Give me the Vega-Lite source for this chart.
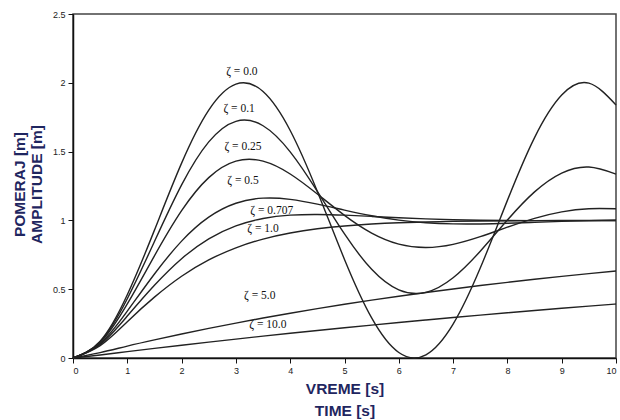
{
  "$schema": "https://vega.github.io/schema/vega-lite/v6.json",
  "width": 543,
  "height": 344,
  "autosize": {"type": "none"},
  "padding": {"left": 73, "top": 14, "right": 4, "bottom": 62},
  "background": "white",
  "config": {
    "view": {"stroke": "#444", "strokeWidth": 1.5},
    "axis": {
      "grid": false,
      "domainColor": "#111",
      "domainWidth": 1.5,
      "tickColor": "#111",
      "tickSize": 5,
      "tickWidth": 1,
      "labelFont": "Liberation Sans",
      "labelFontSize": 9,
      "labelColor": "#222",
      "labelPadding": 3,
      "titleFont": "Liberation Sans",
      "titleFontWeight": "bold",
      "titleColor": "#1F2660"
    }
  },
  "datasets": {
    "curves": [
      {"z":"0.0","t":0,"y":0},{"z":"0.0","t":0.5,"y":0.1224},{"z":"0.0","t":1,"y":0.4597},{"z":"0.0","t":1.5,"y":0.9293},{"z":"0.0","t":2,"y":1.4161},{"z":"0.0","t":2.5,"y":1.8011},{"z":"0.0","t":3,"y":1.99},{"z":"0.0","t":3.5,"y":1.9365},{"z":"0.0","t":4,"y":1.6536},{"z":"0.0","t":4.5,"y":1.2108},{"z":"0.0","t":5,"y":0.7163},{"z":"0.0","t":5.5,"y":0.2913},{"z":"0.0","t":6,"y":0.0398},{"z":"0.0","t":6.5,"y":0.0234},{"z":"0.0","t":7,"y":0.2461},{"z":"0.0","t":7.5,"y":0.6534},{"z":"0.0","t":8,"y":1.1455},{"z":"0.0","t":8.5,"y":1.602},{"z":"0.0","t":9,"y":1.9111},{"z":"0.0","t":9.5,"y":1.9972},{"z":"0.0","t":10,"y":1.8391},
      {"z":"0.1","t":0,"y":0},{"z":"0.1","t":0.5,"y":0.1185},{"z":"0.1","t":1,"y":0.431},{"z":"0.1","t":1.5,"y":0.8464},{"z":"0.1","t":2,"y":1.2581},{"z":"0.1","t":2.5,"y":1.5704},{"z":"0.1","t":3,"y":1.7201},{"z":"0.1","t":3.5,"y":1.6878},{"z":"0.1","t":4,"y":1.4983},{"z":"0.1","t":4.5,"y":1.2108},{"z":"0.1","t":5,"y":0.9015},{"z":"0.1","t":5.5,"y":0.6445},{"z":"0.1","t":6,"y":0.4949},{"z":"0.1","t":6.5,"y":0.4772},{"z":"0.1","t":7,"y":0.583},{"z":"0.1","t":7.5,"y":0.7758},{"z":"0.1","t":8,"y":1.0026},{"z":"0.1","t":8.5,"y":1.2072},{"z":"0.1","t":9,"y":1.344},{"z":"0.1","t":9.5,"y":1.3877},{"z":"0.1","t":10,"y":1.3369},
      {"z":"0.25","t":0,"y":0},{"z":"0.25","t":0.5,"y":0.1129},{"z":"0.25","t":1,"y":0.3929},{"z":"0.25","t":1.5,"y":0.7426},{"z":"0.25","t":2,"y":1.0706},{"z":"0.25","t":2.5,"y":1.3108},{"z":"0.25","t":3,"y":1.4306},{"z":"0.25","t":3.5,"y":1.4305},{"z":"0.25","t":4,"y":1.3372},{"z":"0.25","t":4.5,"y":1.1915},{"z":"0.25","t":5,"y":1.0366},{"z":"0.25","t":5.5,"y":0.9079},{"z":"0.25","t":6,"y":0.8277},{"z":"0.25","t":6.5,"y":0.8026},{"z":"0.25","t":7,"y":0.8258},{"z":"0.25","t":7.5,"y":0.8816},{"z":"0.25","t":8,"y":0.9507},{"z":"0.25","t":8.5,"y":1.0152},{"z":"0.25","t":9,"y":1.0621},{"z":"0.25","t":9.5,"y":1.0852},{"z":"0.25","t":10,"y":1.0848},
      {"z":"0.5","t":0,"y":0},{"z":"0.5","t":0.5,"y":0.1044},{"z":"0.5","t":1,"y":0.3403},{"z":"0.5","t":1.5,"y":0.6105},{"z":"0.5","t":2,"y":0.8494},{"z":"0.5","t":2.5,"y":1.0234},{"z":"0.5","t":3,"y":1.1244},{"z":"0.5","t":3.5,"y":1.1617},{"z":"0.5","t":4,"y":1.1531},{"z":"0.5","t":4.5,"y":1.1184},{"z":"0.5","t":5,"y":1.0746},{"z":"0.5","t":5.5,"y":1.0336},{"z":"0.5","t":6,"y":1.0023},{"z":"0.5","t":6.5,"y":0.9828},{"z":"0.5","t":7,"y":0.9744},{"z":"0.5","t":7.5,"y":0.9742},{"z":"0.5","t":8,"y":0.979},{"z":"0.5","t":8.5,"y":0.986},{"z":"0.5","t":9,"y":0.9929},{"z":"0.5","t":9.5,"y":0.9985},{"z":"0.5","t":10,"y":1.0022},
      {"z":"0.707","t":0,"y":0},{"z":"0.707","t":0.5,"y":0.0981},{"z":"0.707","t":1,"y":0.3048},{"z":"0.707","t":1.5,"y":0.5288},{"z":"0.707","t":2,"y":0.7219},{"z":"0.707","t":2.5,"y":0.866},{"z":"0.707","t":3,"y":0.9605},{"z":"0.707","t":3.5,"y":1.0141},{"z":"0.707","t":4,"y":1.038},{"z":"0.707","t":4.5,"y":1.0431},{"z":"0.707","t":5,"y":1.0381},{"z":"0.707","t":5.5,"y":1.0289},{"z":"0.707","t":6,"y":1.0193},{"z":"0.707","t":6.5,"y":1.0112},{"z":"0.707","t":7,"y":1.0052},{"z":"0.707","t":7.5,"y":1.0014},{"z":"0.707","t":8,"y":0.9992},{"z":"0.707","t":8.5,"y":0.9983},{"z":"0.707","t":9,"y":0.9981},{"z":"0.707","t":9.5,"y":0.9984},{"z":"0.707","t":10,"y":0.9988},
      {"z":"1.0","t":0,"y":0},{"z":"1.0","t":0.5,"y":0.0902},{"z":"1.0","t":1,"y":0.2642},{"z":"1.0","t":1.5,"y":0.4422},{"z":"1.0","t":2,"y":0.594},{"z":"1.0","t":2.5,"y":0.7127},{"z":"1.0","t":3,"y":0.8009},{"z":"1.0","t":3.5,"y":0.8641},{"z":"1.0","t":4,"y":0.9084},{"z":"1.0","t":4.5,"y":0.9389},{"z":"1.0","t":5,"y":0.9596},{"z":"1.0","t":5.5,"y":0.9734},{"z":"1.0","t":6,"y":0.9826},{"z":"1.0","t":6.5,"y":0.9887},{"z":"1.0","t":7,"y":0.9927},{"z":"1.0","t":7.5,"y":0.9953},{"z":"1.0","t":8,"y":0.997},{"z":"1.0","t":8.5,"y":0.9981},{"z":"1.0","t":9,"y":0.9988},{"z":"1.0","t":9.5,"y":0.9992},{"z":"1.0","t":10,"y":0.9995},
      {"z":"5.0","t":0,"y":0},{"z":"5.0","t":0.5,"y":0.0395},{"z":"5.0","t":1,"y":0.0868},{"z":"5.0","t":1.5,"y":0.1318},{"z":"5.0","t":2,"y":0.1745},{"z":"5.0","t":2.5,"y":0.2152},{"z":"5.0","t":3,"y":0.2538},{"z":"5.0","t":3.5,"y":0.2906},{"z":"5.0","t":4,"y":0.3255},{"z":"5.0","t":4.5,"y":0.3588},{"z":"5.0","t":5,"y":0.3903},{"z":"5.0","t":5.5,"y":0.4204},{"z":"5.0","t":6,"y":0.4489},{"z":"5.0","t":6.5,"y":0.4761},{"z":"5.0","t":7,"y":0.5019},{"z":"5.0","t":7.5,"y":0.5264},{"z":"5.0","t":8,"y":0.5497},{"z":"5.0","t":8.5,"y":0.5719},{"z":"5.0","t":9,"y":0.593},{"z":"5.0","t":9.5,"y":0.613},{"z":"5.0","t":10,"y":0.6321},
      {"z":"10.0","t":0,"y":0},{"z":"10.0","t":0.5,"y":0.0223},{"z":"10.0","t":1,"y":0.0465},{"z":"10.0","t":1.5,"y":0.0701},{"z":"10.0","t":2,"y":0.0931},{"z":"10.0","t":2.5,"y":0.1156},{"z":"10.0","t":3,"y":0.1375},{"z":"10.0","t":3.5,"y":0.1588},{"z":"10.0","t":4,"y":0.1796},{"z":"10.0","t":4.5,"y":0.1999},{"z":"10.0","t":5,"y":0.2197},{"z":"10.0","t":5.5,"y":0.239},{"z":"10.0","t":6,"y":0.2579},{"z":"10.0","t":6.5,"y":0.2762},{"z":"10.0","t":7,"y":0.2942},{"z":"10.0","t":7.5,"y":0.3116},{"z":"10.0","t":8,"y":0.3287},{"z":"10.0","t":8.5,"y":0.3453},{"z":"10.0","t":9,"y":0.3615},{"z":"10.0","t":9.5,"y":0.3773},{"z":"10.0","t":10,"y":0.3927}
    ],
    "labels": [
      {"label":"ζ = 0.0","t":3.11,"y":2.08},
      {"label":"ζ = 0.1","t":3.06,"y":1.806},
      {"label":"ζ = 0.25","t":3.13,"y":1.532},
      {"label":"ζ = 0.5","t":3.13,"y":1.283},
      {"label":"ζ = 0.707","t":3.66,"y":1.067},
      {"label":"ζ = 1.0","t":3.5,"y":0.934},
      {"label":"ζ = 5.0","t":3.44,"y":0.447},
      {"label":"ζ = 10.0","t":3.59,"y":0.243}
    ]
  },
  "layer": [
    {
      "data": {"name": "curves"},
      "mark": {"type": "line", "interpolate": "natural", "stroke": "#222", "strokeWidth": 1.4},
      "encoding": {
        "x": {
          "field": "t", "type": "quantitative",
          "scale": {"domain": [0, 10], "nice": false},
          "axis": {
            "values": [0,1,2,3,4,5,6,7,8,9,10],
            "title": ["VREME [s]", "TIME [s]"],
            "titleFontSize": 15.5,
            "titleLineHeight": 22,
            "titleAlign": "center",
            "titleBaseline": "alphabetic",
            "titleX": 271.5,
            "titleY": 35
          }
        },
        "y": {
          "field": "y", "type": "quantitative",
          "scale": {"domain": [0, 2.5], "nice": false},
          "axis": {
            "values": [0, 0.5, 1, 1.5, 2, 2.5],
            "format": "~g",
            "title": ["POMERAJ [m]", "AMPLITUDE [m]"],
            "titleFontSize": 15.5,
            "titleLineHeight": 17.7,
            "titleAngle": -90,
            "titleAlign": "center",
            "titleBaseline": "alphabetic",
            "titleX": -49,
            "titleY": 170
          }
        },
        "detail": {"field": "z", "type": "nominal"}
      }
    },
    {
      "data": {"name": "labels"},
      "mark": {"type": "text", "font": "Liberation Serif", "fontSize": 11.5, "color": "#111", "align": "center", "baseline": "middle"},
      "encoding": {
        "x": {"field": "t", "type": "quantitative"},
        "y": {"field": "y", "type": "quantitative"},
        "text": {"field": "label"}
      }
    }
  ]
}
